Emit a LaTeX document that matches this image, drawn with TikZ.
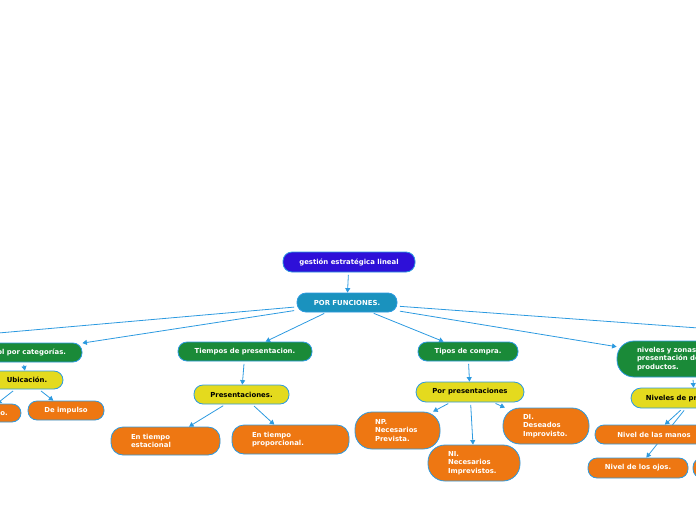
\documentclass[tikz,border=0pt]{standalone}
\usepackage{fontspec}
\setmainfont{DejaVu Sans}
\usetikzlibrary{arrows.meta}
\pgfdeclarelayer{bg}
\pgfsetlayers{bg,main}
\definecolor{edgeblue}{HTML}{2C9AE0}
\definecolor{rootc}{HTML}{2E10D8}
\definecolor{tealc}{HTML}{1A92BE}
\definecolor{greenc}{HTML}{1A8A38}
\definecolor{yellowc}{HTML}{E4DA1E}
\definecolor{orangec}{HTML}{EE7712}
\tikzset{
  box/.style={draw=edgeblue, line width=0.8pt, inner sep=0pt,
    font=\bfseries\fontsize{6.9}{8.5}\selectfont, align=center},
  pill/.style={box, rounded corners=9pt, minimum height=19pt},
  multi/.style={box, align=left, inner xsep=20pt, rounded corners=14pt},
  rootbox/.style={pill, fill=rootc, text=white},
  tealbox/.style={pill, fill=tealc, text=white},
  greenbox/.style={pill, fill=greenc, text=white},
  yellowbox/.style={pill, fill=yellowc, text=black},
  orangebox/.style={pill, fill=orangec, text=white},
  orangemulti/.style={multi, fill=orangec, text=white},
  greenmulti/.style={multi, fill=greenc, text=white},
  conn/.style={draw=edgeblue, line width=0.8pt, shorten <=2.5pt,
    -{Triangle[length=4.5pt,width=5pt]}},
}
\begin{document}
\begin{tikzpicture}[x=1pt,y=-1pt]
\useasboundingbox (0,0) rectangle (696,520);
\clip (0,0) rectangle (696,520);

\node[rootbox, minimum width=132pt, minimum height=20pt] (g) at (349,262) {gestión estratégica lineal};
\node[tealbox, minimum width=100pt] (pf) at (347,302.5) {POR FUNCIONES.};

\coordinate (offL) at (-150,346);
\coordinate (offR) at (850,339);

\node[greenbox, minimum width=122pt] (cat) at (21,352.5) {Control por categorías.};
\node[yellowbox, minimum width=72pt, minimum height=18pt] (ubi) at (27,380) {Ubicación.};
\node[orangebox, minimum width=72pt, minimum height=18pt] (plan) at (-15,413) {Planificado.};
\node[orangebox, minimum width=76pt] (imp) at (66,410.5) {De impulso};

\node[greenbox, minimum width=134pt] (tp) at (245,351.5) {Tiempos de presentacion.};
\node[yellowbox, minimum width=95pt] (pres) at (241.5,394.5) {Presentaciones.};
\node[orangemulti, text width=69pt, minimum height=28pt, rounded corners=12pt] (est) at (165.5,441) {En tiempo\\estacional};
\node[orangemulti, text width=77pt, minimum height=29pt, rounded corners=12pt] (prop) at (290.5,439.5) {En tiempo\\proporcional.};

\node[greenbox, minimum width=100pt] (tc) at (468,351.5) {Tipos de compra.};
\node[yellowbox, minimum width=108pt, minimum height=20pt, rounded corners=10pt] (pp) at (470,392) {Por presentaciones};
\node[orangemulti, text width=45pt, minimum height=37pt, rounded corners=17pt] (np) at (397.5,430.5) {NP.\\Necesarios\\Prevista.};
\node[orangemulti, text width=52pt, minimum height=36pt, rounded corners=17pt] (ni) at (474,463) {NI.\\Necesarios\\Imprevistos.};
\node[orangemulti, text width=46pt, minimum height=36pt, rounded corners=17pt] (di) at (546,426) {DI.\\Deseados\\Improvisto.};

\node[greenmulti, text width=110pt, minimum height=36pt, rounded corners=17pt] (niv) at (692,359) {niveles y zonas de\\presentación de\\productos.};
\node[yellowbox, minimum width=126pt, minimum height=20pt, rounded corners=10pt] (nvp) at (694,398) {Niveles de presentación.};
\node[orangebox, minimum width=118pt] (man) at (654,434.5) {Nivel de las manos};
\node[orangebox, minimum width=100pt, minimum height=20pt] (ojos) at (638,468) {Nivel de los ojos.};
\node[orangebox, minimum width=90pt, minimum height=20pt] (suelo) at (738,468) {Nivel del piso.};

\begin{pgfonlayer}{bg}
\draw[conn] (g) -- (pf);
\draw[conn] (pf) -- (offL);
\draw[conn] (pf) -- (offR);
\draw[conn] (pf) -- (cat);
\draw[conn] (pf) -- (tp);
\draw[conn] (pf) -- (tc);
\draw[conn] (pf) -- (niv);
\draw[conn] (cat) -- (ubi);
\draw[conn] (ubi) -- (plan);
\draw[conn] (ubi) -- (imp);
\draw[conn] (tp) -- (pres);
\draw[conn] (pres) -- (est);
\draw[conn] (pres) -- (prop);
\draw[conn] (tc) -- (pp);
\draw[conn] (pp) -- (np);
\draw[conn] (pp) -- (ni);
\draw[conn] (pp) -- (di);
\draw[conn] (niv) -- (nvp);
\draw[conn] (nvp) -- (man);
\draw[conn] (nvp) -- (ojos);
\end{pgfonlayer}
\end{tikzpicture}
\end{document}
